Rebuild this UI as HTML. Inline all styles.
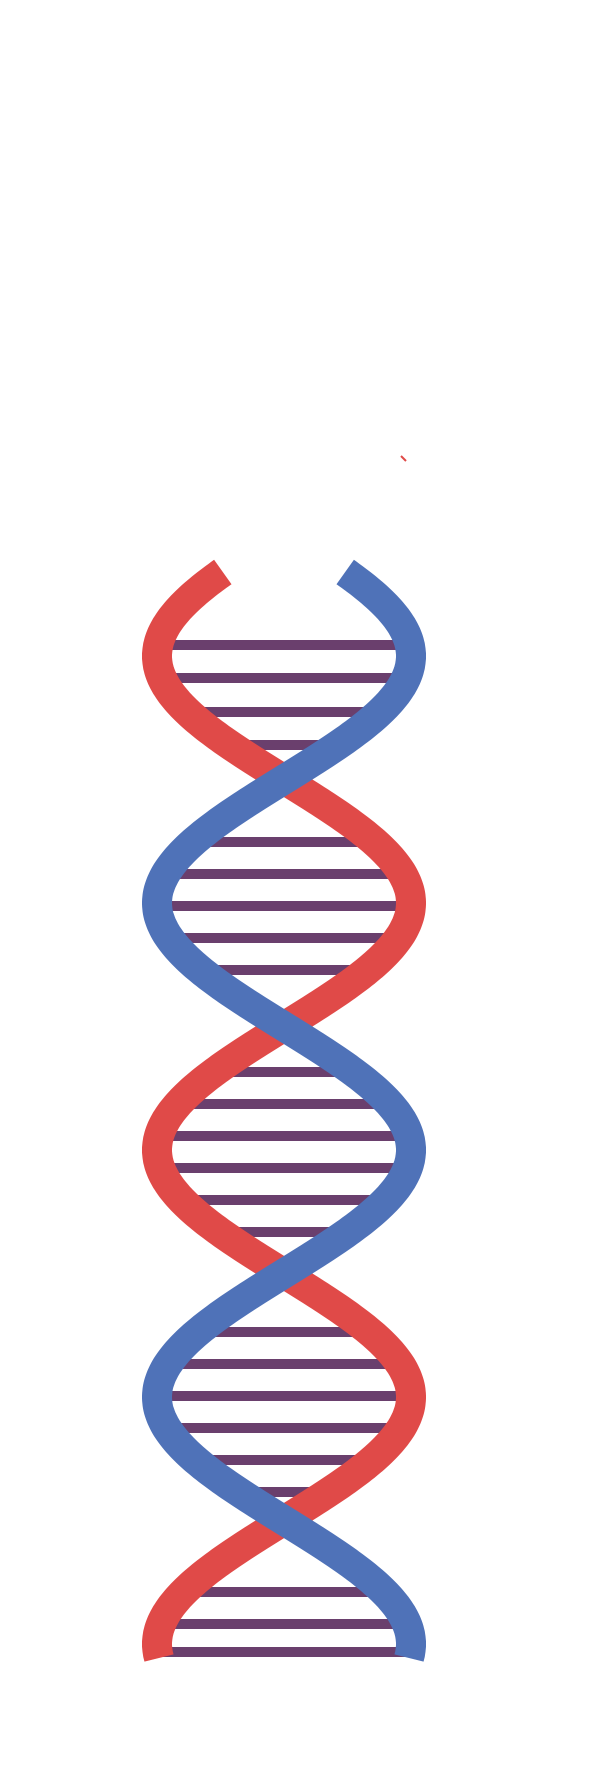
<!DOCTYPE html>
<html><head><meta charset="utf-8"><style>
html,body{margin:0;padding:0;background:#fff;}
svg{display:block;}
</style></head><body>
<svg id="dna" width="594" height="1777" viewBox="0 0 594 1777" xmlns="http://www.w3.org/2000/svg">
<path d="M401 456 L406 461" stroke="#e04a48" stroke-width="2"/>
<g id="rungs"></g>
<path id="red" fill="none" stroke="#e04a48" stroke-width="30" stroke-linecap="butt"/>
<path id="blue" fill="none" stroke="#4f72b8" stroke-width="30" stroke-linecap="butt"/>
</svg>
<script>
const helixCenter = [284];
const helixAmplitude = [127];
const helixPeriod = [494];
const redLeftY = [656];
const strandRange = [572, 1658];
const rungYs = [645,678,712,745,842,874,906,938,970,1072,1104,1136,1168,1200,1232,1332,1364,1396,1428,1460,1492,1592,1624,1652];
const ns="http://www.w3.org/2000/svg";
function redX(y){return helixCenter[0]-helixAmplitude[0]*Math.cos(2*Math.PI*(y-redLeftY[0])/helixPeriod[0]);}
function blueX(y){return 2*helixCenter[0]-redX(y);}
let dr="",db="";
for(let y=strandRange[0];y<=strandRange[1];y+=2){
  dr+=(y===strandRange[0]?"M":"L")+redX(y).toFixed(1)+" "+y+" ";
  db+=(y===strandRange[0]?"M":"L")+blueX(y).toFixed(1)+" "+y+" ";
}
document.getElementById('red').setAttribute('d',dr);
document.getElementById('blue').setAttribute('d',db);
const g=document.getElementById('rungs');
rungYs.forEach(y=>{
  const a=redX(y),b=blueX(y);
  if(Math.abs(a-b)<50) return;
  const l=document.createElementNS(ns,'line');
  l.setAttribute('x1',Math.min(a,b));l.setAttribute('x2',Math.max(a,b));
  l.setAttribute('y1',y);l.setAttribute('y2',y);
  l.setAttribute('stroke','#6a3f6d');l.setAttribute('stroke-width','10');
  
  
  g.appendChild(l);
});
</script>
</body></html>
